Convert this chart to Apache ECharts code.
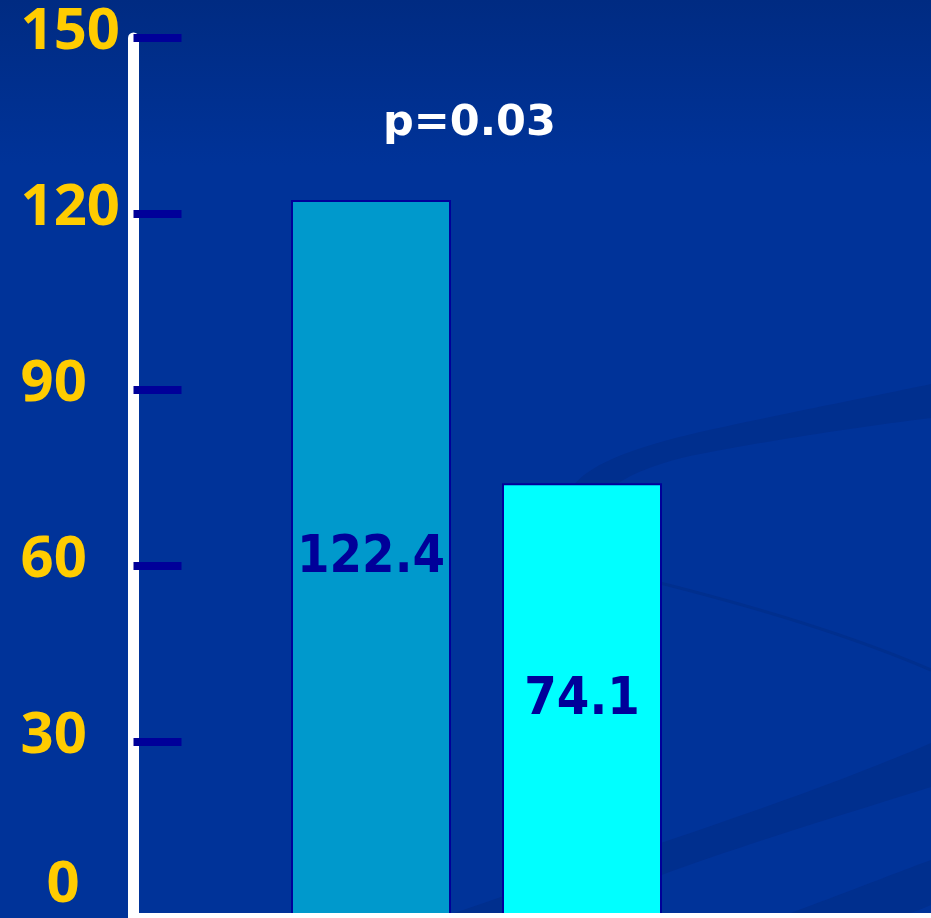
<!DOCTYPE html>
<html>
<head>
<meta charset="utf-8">
<script src="https://cdn.jsdelivr.net/npm/echarts@6/dist/echarts.min.js"></script>
<style>
  html, body { margin: 0; padding: 0; background: #003399; }
  #chart { width: 931px; height: 918px; }
</style>
</head>
<body>
<div id="chart"></div>
<script>
// Values
const groups = ['Group A', 'Group B'];
const means = [122.4, 74.1];
const barColors = ['#0099CC', '#00FFFF'];
const yTicks = [0, 30, 60, 90, 120, 150];
const pValueText = 'p=0.03';

const yMin = yTicks[0];
const yMax = yTicks[yTicks.length - 1];
const yStep = yTicks[1] - yTicks[0];

const chart = echarts.init(document.getElementById('chart'), null, { renderer: 'canvas' });

const swooshColor = '#002f8e';

// sample a chain of cubic bezier segments into polygon points
function bez(start, segs) {
  const pts = [start];
  let p0 = start;
  segs.forEach(function (s) {
    if (s.length === 1) { pts.push(s[0]); p0 = s[0]; return; }
    const c1 = s[0], c2 = s[1], p3 = s[2];
    for (let i = 1; i <= 24; i++) {
      const t = i / 24, u = 1 - t;
      pts.push([
        u * u * u * p0[0] + 3 * u * u * t * c1[0] + 3 * u * t * t * c2[0] + t * t * t * p3[0],
        u * u * u * p0[1] + 3 * u * u * t * c1[1] + 3 * u * t * t * c2[1] + t * t * t * p3[1]
      ]);
    }
    p0 = p3;
  });
  return pts;
}

const bandUpper = bez([567, 512], [
  [[560, 480], [600, 455], [700, 432]],
  [[800, 410], [880, 395], [931, 384]],
  [[931, 418]],
  [[850, 428], [760, 442], [690, 456]],
  [[630, 470], [600, 490], [593, 512]]
]);
const bandLower = bez([440, 918], [
  [[600, 862], [800, 800], [931, 743]],
  [[931, 787]],
  [[820, 822], [650, 872], [560, 918]]
]);
const bandCorner = bez([777, 918], [
  [[840, 895], [890, 875], [931, 860]],
  [[931, 905]],
  [[920, 910], [905, 915], [895, 918]]
]);

const labelFont = { color: '#FFCC00', fontFamily: 'Noto Sans', fontWeight: 'bold', fontSize: 58 };

const option = {
  animation: false,
  backgroundColor: {
    type: 'linear', x: 0, y: 0, x2: 0, y2: 1,
    colorStops: [
      { offset: 0, color: '#002b82' },
      { offset: 0.18, color: '#003399' },
      { offset: 1, color: '#003399' }
    ]
  },
  title: {
    text: pValueText,
    left: 383,
    top: 102,
    padding: 0,
    textStyle: {
      color: '#ffffff',
      fontFamily: 'DejaVu Sans',
      fontWeight: 'bold',
      fontSize: 43
    }
  },
  // faint background swooshes
  graphic: [
    { type: 'polygon', z: -1, silent: true, shape: { points: bandUpper }, style: { fill: swooshColor } },
    {
      type: 'bezierCurve', z: -1, silent: true,
      shape: { x1: 640, y1: 578, cpx1: 750, cpy1: 605, cpx2: 850, cpy2: 635, x2: 931, y2: 670 },
      style: { fill: null, stroke: swooshColor, lineWidth: 3 }
    },
    { type: 'polygon', z: -1, silent: true, shape: { points: bandLower }, style: { fill: swooshColor } },
    { type: 'polygon', z: -1, silent: true, shape: { points: bandCorner }, style: { fill: swooshColor } }
  ],
  grid: [
    { left: 133.5, right: 0, top: 38, bottom: 0 },
    { left: 265.5, right: 243.5, top: 38, bottom: 0 }
  ],
  xAxis: [
    {
      gridIndex: 0, type: 'category', data: groups, z: 5,
      axisLine: { show: true, lineStyle: { color: '#ffffff', width: 11 } },
      axisTick: { show: false },
      axisLabel: { show: false }
    },
    {
      gridIndex: 1, type: 'category', data: groups,
      axisLine: { show: false }, axisTick: { show: false }, axisLabel: { show: false }
    }
  ],
  yAxis: [
    {
      gridIndex: 0, type: 'value', min: yMin, max: yMax, interval: yStep,
      splitLine: { show: false },
      axisLine: { show: true, lineStyle: { color: '#ffffff', width: 11 } },
      axisTick: { show: true, inside: true, length: 48, lineStyle: { color: '#000099', width: 8 } },
      axisLabel: Object.assign({
        show: true,
        align: 'left',
        margin: 113,
        showMinLabel: true,
        showMaxLabel: true,
        formatter: function (v) {
          return v === yMin ? '{z|' + v + '}' : '{n|' + v + '}';
        },
        rich: {
          n: Object.assign({ padding: [0, 0, 12, 0] }, labelFont),
          z: Object.assign({ padding: [0, 0, 66, 26] }, labelFont)
        }
      }, labelFont)
    },
    {
      gridIndex: 1, type: 'value', min: yMin, max: yMax, interval: yStep,
      show: false, splitLine: { show: false }
    }
  ],
  series: [
    {
      type: 'bar',
      xAxisIndex: 1,
      yAxisIndex: 1,
      barWidth: 160,
      z: 3,
      data: means.map(function (v, i) {
        return { value: v, itemStyle: { color: barColors[i] } };
      }),
      itemStyle: { borderColor: '#000099', borderWidth: 2 },
      label: {
        show: true,
        position: 'inside',
        formatter: '{c}',
        color: '#000099',
        fontFamily: 'DejaVu Sans Condensed, DejaVu Sans',
        fontWeight: 'bold',
        fontSize: 52
      }
    }
  ]
};

chart.setOption(option);
</script>
</body>
</html>
